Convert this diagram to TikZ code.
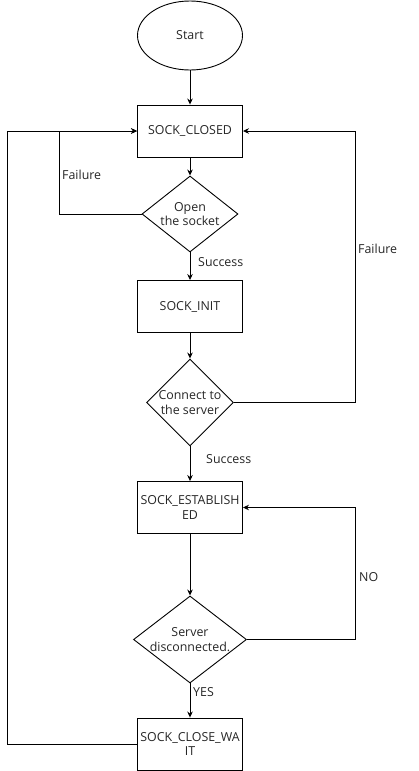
\documentclass[tikz,border=0pt]{standalone}
\usepackage{fontspec}
\setmainfont{Open Sans}
\usetikzlibrary{shapes.geometric,arrows.meta}
\begin{document}
\begin{tikzpicture}[x=1pt,y=-1pt,
  every node/.style={font=\fontsize{12.4}{14.5}\selectfont, text=black!85},
  box/.style={draw, line width=0.9pt, minimum width=105pt, minimum height=52pt, inner sep=0pt, align=center},
  dia/.style={draw, diamond, line width=0.9pt, inner sep=0pt},
  arr/.style={draw, line width=0.9pt, -{Stealth[length=6pt,width=5.5pt]}},
  ln/.style={draw, line width=0.9pt},
  lab/.style={anchor=west, inner sep=0pt}]
\useasboundingbox (0,0) rectangle (418,771);
\node[draw, ellipse, line width=0.9pt, minimum width=105pt, minimum height=69pt, inner sep=0pt] (start) at (190,35.5) {Start};
\node[box] (closed) at (190,131) {SOCK\_CLOSED};
\node[dia, minimum width=96pt, minimum height=76pt, label={[align=center]center:Open\\the socket}] (d1) at (190,214) {};
\node[box] (init) at (190,306.5) {SOCK\_INIT};
\node[dia, minimum width=87pt, minimum height=87pt, label={[align=center]center:Connect to\\the server}] (d2) at (190,402.5) {};
\node[box] (est) at (190,507.5) {SOCK\_ESTABLISH\\ED};
\node[dia, minimum width=113pt, minimum height=87pt, label={[align=center]center:Server\\disconnected.}] (d3) at (190,639.5) {};
\node[box] (wait) at (190,744) {SOCK\_CLOSE\_WA\\IT};

\coordinate (l1) at (59,214);
\coordinate (l1t) at (59,131);
\coordinate (r1) at (355,402.5);
\coordinate (r1t) at (355,131);
\coordinate (r2) at (355,639.5);
\coordinate (r2t) at (355,507.5);
\coordinate (o1) at (7,744);
\coordinate (o1t) at (7,131);

\draw[arr] (start) -- (closed);
\draw[arr] (closed) -- (d1);
\draw[arr] (d1) -- (init);
\draw[arr] (init) -- (d2);
\draw[arr] (d2) -- (est);
\draw[arr] (est) -- (d3);
\draw[arr] (d3) -- (wait);
\draw[arr] (d1.west) -- (l1) -- (l1t) -- (closed.west);
\draw[arr] (d2.east) -- (r1) -- (r1t) -- (closed.east);
\draw[arr] (d3.east) -- (r2) -- (r2t) -- (est.east);
\draw[arr] (wait.west) -- (o1) -- (o1t) -- (closed.west);

\node[lab] (t1) at (198,262) {Success};
\node[lab] (t2) at (62,175) {Failure};
\node[lab] (t3) at (358,249) {Failure};
\node[lab] (t4) at (206,459) {Success};
\node[lab] (t5) at (359,577) {NO};
\node[lab] (t6) at (193,692) {YES};
\end{tikzpicture}
\end{document}
